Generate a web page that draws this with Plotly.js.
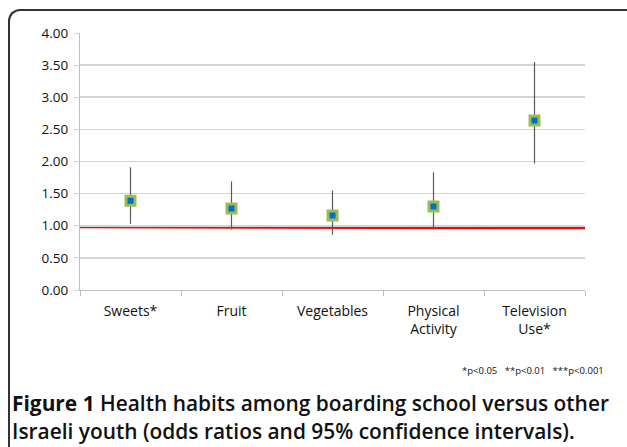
<!DOCTYPE html>
<html>
<head>
<meta charset="utf-8">
<script src="https://cdn.plot.ly/plotly-3.0.1.min.js"></script>
<style>
  html, body { margin: 0; padding: 0; background: #fff; }
  #wrap { position: relative; width: 627px; height: 447px; overflow: hidden; }
  #frame { position: absolute; left: 8px; top: 9px; width: 640px; height: 460px;
           border-top: 2px solid #333; border-left: 2px solid #333;
           border-top-left-radius: 12px; box-sizing: border-box; }
  #chart { position: absolute; left: 0; top: 0; width: 627px; height: 447px; }
</style>
</head>
<body>
<div id="wrap">
  <div id="frame"></div>
  <div id="chart"></div>
</div>
<script>
// Data
const categories = ["Sweets*", "Fruit", "Vegetables", "Physical<br>Activity", "Television<br>Use*"];
const oddsRatios = [1.39, 1.27, 1.16, 1.30, 2.64];
const ciUpper = [1.91, 1.69, 1.55, 1.83, 3.55];
const ciLower = [1.03, 0.94, 0.86, 0.94, 1.97];
const refLineY = [0.985, 0.97];
const yTickVals = [0, 0.5, 1, 1.5, 2, 2.5, 3, 3.5, 4];
const yTickText = ["0.00", "0.50", "1.00", "1.50", "2.00", "2.50", "3.00", "3.50", "4.00"];
const footnote = "*p<0.05   **p<0.01   ***p<0.001";
const captionLine1 = "<b>Figure 1</b> Health habits among boarding school versus other";
const captionLine2 = "Israeli youth (odds ratios and 95% confidence intervals).";

const errPlus = oddsRatios.map((v, i) => ciUpper[i] - v);
const errMinus = oddsRatios.map((v, i) => v - ciLower[i]);

const trace = {
  type: "scatter",
  mode: "markers",
  x: categories,
  y: oddsRatios,
  marker: { symbol: "square", size: 9, color: "#0070C0", line: { color: "#9BBB59", width: 3 } },
  error_y: { type: "data", symmetric: false, array: errPlus, arrayminus: errMinus,
             color: "#5a5a5a", thickness: 1.2, width: 0 },
  hoverinfo: "skip",
  showlegend: false
};

// plot domain in pixels: x 80..585, y 33..290
const L = 80, R = 585, T = 33, B = 290;
const px = v => (v - L) / (R - L);
const py = v => (B - v) / (B - T);

const layout = {
  width: 627, height: 447,
  margin: { l: L, r: 627 - R, t: T, b: 447 - B, pad: 0 },
  paper_bgcolor: "rgba(0,0,0,0)",
  plot_bgcolor: "rgba(0,0,0,0)",
  font: { family: "Open Sans, sans-serif", color: "#111", size: 13 },
  xaxis: {
    type: "category",
    range: [-0.5, 4.5],
    showgrid: false,
    showline: true, linecolor: "#bfbfbf", linewidth: 1,
    ticks: "outside", tickson: "boundaries", ticklen: 5, tickcolor: "#bfbfbf",
    tickfont: { family: "Open Sans, sans-serif", size: 14, color: "#111" },
    ticklabelstandoff: 8,
    zeroline: false, fixedrange: true
  },
  yaxis: {
    range: [0, 4],
    tickvals: yTickVals, ticktext: yTickText,
    showgrid: true, gridcolor: "#d4d4d4", gridwidth: 1.6,
    showline: true, linecolor: "#bfbfbf", linewidth: 1,
    ticks: "outside", ticklen: 5, tickcolor: "#d4d4d4",
    tickfont: { family: "Open Sans, sans-serif", size: 13.5, color: "#111" },
    ticklabelstandoff: 3,
    zeroline: false, fixedrange: true
  },
  shapes: [{
    type: "line", layer: "between",
    xref: "paper", yref: "y",
    x0: 0, x1: 1, y0: refLineY[0], y1: refLineY[1],
    line: { color: "#ff0000", width: 3.2 }
  }],
  annotations: [
    { xref: "paper", yref: "paper", x: px(606), y: py(370), xanchor: "right", yanchor: "middle",
      text: footnote, showarrow: false, font: { family: "Open Sans, sans-serif", size: 9.5, color: "#111" } },
    { xref: "paper", yref: "paper", x: px(10), y: py(403), xanchor: "left", yanchor: "middle",
      text: captionLine1, showarrow: false, font: { family: "Open Sans, sans-serif", size: 20.9, color: "#111", weight: 600 } },
    { xref: "paper", yref: "paper", x: px(10), y: py(431), xanchor: "left", yanchor: "middle",
      text: captionLine2, showarrow: false, font: { family: "Open Sans, sans-serif", size: 20.9, color: "#111", weight: 600 } }
  ]
};

Plotly.newPlot("chart", [trace], layout, { displayModeBar: false, staticPlot: true });
</script>
</body>
</html>
